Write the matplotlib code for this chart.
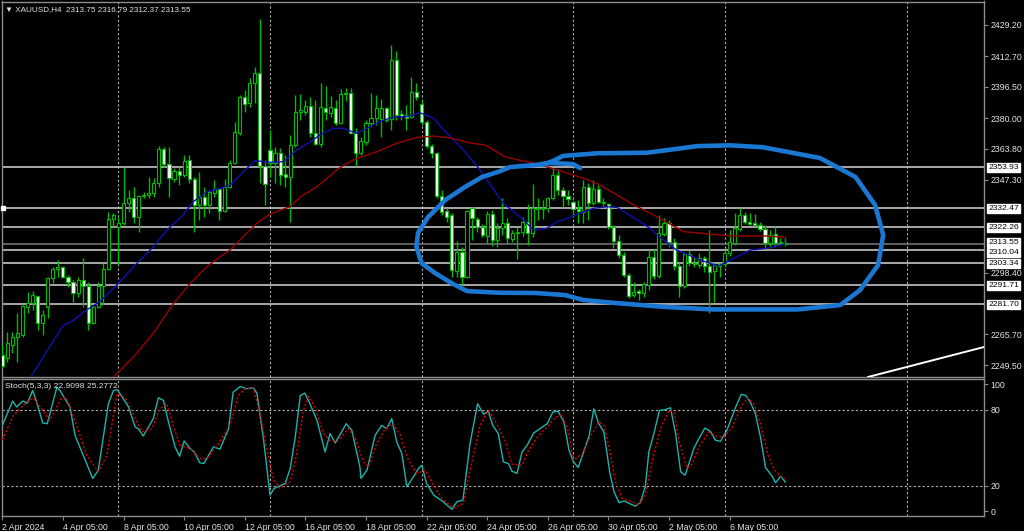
import matplotlib
matplotlib.use("Agg")
import matplotlib.pyplot as plt
import matplotlib.transforms as mtransforms

plt.rcParams['font.family'] = ['Liberation Sans', 'DejaVu Sans']

W, H = 1024, 531

# XAUUSD H4, OHLC of the visible bars
opens = [2254.8, 2253.0, 2260.1, 2264.3, 2265.4, 2280.1, 2282.3, 2285.9, 2271.7, 2280.1,
         2295.5, 2300.2, 2301.3, 2296.0, 2293.4, 2287.5, 2294.4, 2291.3, 2271.7, 2280.1,
         2291.3, 2300.2, 2326.7, 2322.5, 2324.6, 2335.1, 2337.8, 2327.7, 2338.8, 2339.3,
         2340.4, 2345.7, 2363.7, 2355.7, 2347.8, 2352.0, 2349.9, 2357.8, 2347.8, 2334.1,
         2338.3, 2334.1, 2340.4, 2342.5, 2330.9, 2343.6, 2356.3, 2372.1, 2391.1, 2388.0,
         2398.5, 2403.8, 2354.7, 2363.1, 2356.3, 2361.5, 2350.4, 2348.8, 2365.8, 2383.2,
         2383.2, 2386.4, 2372.1, 2366.3, 2385.3, 2382.7, 2385.3, 2377.4, 2393.3, 2393.3,
         2372.1, 2361.5, 2367.4, 2377.4, 2380.0, 2379.5, 2385.3, 2379.5, 2410.7, 2382.1,
         2381.6, 2380.6, 2393.8, 2387.4, 2377.9, 2365.2, 2361.5, 2338.8, 2330.9, 2328.8,
         2299.2, 2309.2, 2296.0, 2332.5, 2326.7, 2322.5, 2317.7, 2329.3, 2315.6, 2321.9,
         2324.6, 2316.1, 2319.1, 2319.6, 2325.1, 2319.1, 2332.5, 2332.0, 2332.5, 2337.8,
         2349.9, 2342.0, 2338.8, 2335.6, 2332.0, 2330.4, 2343.6, 2335.1, 2342.5, 2335.6,
         2334.6, 2322.5, 2315.0, 2307.6, 2297.1, 2286.5, 2288.6, 2287.5, 2291.8, 2306.6,
         2296.5, 2318.7, 2324.6, 2314.5, 2301.8, 2291.3, 2308.2, 2303.4, 2302.4, 2306.0,
         2301.8, 2299.2, 2301.8, 2302.9, 2308.7, 2314.0, 2321.4, 2328.8, 2325.1, 2324.6,
         2323.5, 2321.4, 2314.0, 2318.7, 2314.0, 2313.75]
highs = [2260.1, 2267.1, 2267.1, 2277.0, 2281.2, 2288.1, 2288.6, 2286.2, 2278.6, 2296.0,
         2301.3, 2305.0, 2301.8, 2297.1, 2294.4, 2296.0, 2306.0, 2293.4, 2281.2, 2293.4,
         2303.4, 2330.4, 2329.8, 2327.7, 2354.1, 2342.0, 2343.6, 2339.3, 2340.9, 2348.8,
         2348.3, 2365.2, 2364.7, 2364.7, 2353.6, 2354.1, 2360.5, 2360.5, 2348.8, 2351.5,
         2343.6, 2342.0, 2347.3, 2343.0, 2347.8, 2357.8, 2377.9, 2392.2, 2394.8, 2401.2,
         2407.0, 2432.4, 2357.8, 2373.7, 2364.7, 2364.2, 2360.5, 2371.0, 2392.2, 2392.7,
         2389.6, 2391.1, 2389.6, 2398.5, 2397.0, 2391.6, 2389.6, 2395.4, 2395.9, 2395.9,
         2374.7, 2370.0, 2379.0, 2393.3, 2392.2, 2390.1, 2385.8, 2418.6, 2415.5, 2384.3,
         2386.9, 2401.7, 2398.5, 2389.6, 2379.0, 2366.3, 2362.1, 2342.0, 2332.5, 2329.8,
         2315.0, 2311.9, 2331.4, 2333.0, 2327.7, 2324.0, 2330.9, 2331.4, 2324.6, 2337.8,
         2327.2, 2320.7, 2322.5, 2327.7, 2334.6, 2345.2, 2337.8, 2336.7, 2338.3, 2353.6,
         2353.1, 2343.6, 2342.0, 2336.7, 2336.7, 2347.3, 2345.7, 2347.3, 2344.6, 2337.8,
         2335.1, 2323.5, 2318.2, 2309.2, 2298.1, 2293.4, 2289.7, 2293.4, 2310.3, 2310.8,
         2328.8, 2327.2, 2326.1, 2316.6, 2303.4, 2309.2, 2310.3, 2306.6, 2308.7, 2307.1,
         2320.9, 2303.4, 2303.4, 2310.3, 2320.9, 2329.8, 2332.5, 2330.4, 2329.8, 2329.3,
         2325.1, 2323.5, 2320.7, 2323.0, 2316.6, 2316.79]
lows = [2247.9, 2251.2, 2255.8, 2251.1, 2264.3, 2277.0, 2278.6, 2268.0, 2265.4, 2274.3,
        2292.8, 2296.0, 2295.5, 2290.7, 2282.8, 2285.4, 2280.1, 2268.0, 2271.2, 2279.6,
        2281.2, 2299.7, 2322.2, 2302.4, 2323.5, 2330.4, 2324.6, 2319.6, 2337.8, 2337.8,
        2338.3, 2343.6, 2354.1, 2338.3, 2346.2, 2344.6, 2348.8, 2345.7, 2320.0, 2326.2,
        2327.7, 2329.8, 2338.3, 2326.2, 2330.4, 2343.0, 2355.7, 2371.0, 2383.2, 2385.8,
        2388.0, 2345.7, 2334.1, 2348.8, 2345.7, 2344.6, 2343.6, 2325.1, 2364.7, 2379.0,
        2381.6, 2370.0, 2365.8, 2364.7, 2379.0, 2380.6, 2376.3, 2376.9, 2389.0, 2371.5,
        2354.7, 2360.5, 2365.8, 2375.3, 2376.3, 2370.0, 2377.9, 2373.7, 2379.0, 2379.0,
        2373.7, 2380.0, 2389.6, 2376.3, 2364.2, 2358.9, 2337.8, 2328.8, 2325.1, 2296.0,
        2296.0, 2291.8, 2295.5, 2315.6, 2319.6, 2317.1, 2314.0, 2312.4, 2311.9, 2318.2,
        2314.0, 2314.5, 2305.5, 2317.7, 2312.9, 2317.1, 2326.2, 2326.7, 2330.4, 2336.7,
        2339.3, 2333.0, 2334.1, 2327.7, 2324.6, 2324.6, 2326.2, 2334.1, 2335.1, 2333.5,
        2321.4, 2311.3, 2306.0, 2296.0, 2284.9, 2285.4, 2283.9, 2285.4, 2289.1, 2295.0,
        2295.5, 2317.7, 2311.9, 2299.7, 2285.4, 2290.2, 2301.8, 2301.3, 2300.8, 2298.6,
        2277.0, 2282.8, 2296.0, 2301.3, 2307.1, 2312.9, 2320.3, 2324.0, 2323.5, 2323.0,
        2320.3, 2311.3, 2311.3, 2311.9, 2312.9, 2312.37]
closes = [2249.0, 2261.0, 2264.4, 2266.4, 2280.7, 2282.3, 2286.5, 2271.7, 2275.9, 2295.5,
          2300.2, 2301.3, 2296.0, 2293.4, 2287.5, 2294.4, 2291.3, 2271.7, 2280.1, 2291.3,
          2300.2, 2326.7, 2328.8, 2324.6, 2335.1, 2337.8, 2327.7, 2338.8, 2339.0, 2340.4,
          2345.7, 2363.7, 2355.7, 2348.3, 2352.0, 2349.9, 2357.3, 2347.8, 2334.1, 2338.3,
          2334.1, 2340.9, 2342.5, 2330.9, 2343.6, 2356.3, 2372.6, 2391.1, 2387.4, 2398.5,
          2403.8, 2354.7, 2345.2, 2356.3, 2361.5, 2349.9, 2348.8, 2365.8, 2383.2, 2384.3,
          2386.4, 2372.1, 2366.3, 2385.8, 2383.2, 2385.8, 2377.4, 2392.7, 2392.7, 2372.1,
          2361.5, 2367.9, 2377.4, 2380.0, 2385.3, 2385.3, 2379.0, 2410.7, 2381.6, 2381.1,
          2380.0, 2393.8, 2391.1, 2377.9, 2365.2, 2361.5, 2338.8, 2330.4, 2327.7, 2299.7,
          2309.2, 2296.0, 2330.9, 2327.2, 2322.5, 2318.2, 2329.3, 2315.6, 2321.9, 2324.6,
          2316.6, 2319.1, 2319.6, 2325.1, 2319.1, 2332.5, 2332.0, 2332.5, 2337.8, 2349.9,
          2342.0, 2338.8, 2337.2, 2332.0, 2330.9, 2343.6, 2335.1, 2342.5, 2335.6, 2335.1,
          2322.5, 2315.0, 2307.6, 2297.1, 2286.0, 2288.1, 2287.5, 2292.3, 2306.6, 2296.5,
          2319.3, 2324.6, 2314.5, 2301.8, 2291.3, 2308.2, 2303.4, 2302.9, 2306.0, 2301.8,
          2298.6, 2302.4, 2302.9, 2308.7, 2314.5, 2321.9, 2328.8, 2325.1, 2324.0, 2323.5,
          2321.4, 2314.0, 2318.2, 2314.0, 2314.5, 2313.55]

# moving averages (bar position, price)
ma_fast_x = [3, 5.6, 9.4, 12.1, 13.7, 16.7, 19.3, 23, 26, 28.6, 29.9, 32.6, 35.5, 37.8, 40.5,
             43.1, 45.1, 48.1, 50.0, 51.7, 52.4, 55.6, 58.3, 61, 62.9, 65.5, 67.5, 70.2, 72.2,
             74.8, 77.4, 80.1, 82.7, 85.4, 87.4, 88.7, 91.3, 94.6, 96.9, 99.2, 102.5, 105.2,
             107.8, 109.8, 111.8, 114.4, 117.0, 119.7, 121.7, 125, 128.3, 129.6, 133.5, 138.2,
             141.8, 144.8, 148.1, 151.4, 155]
ma_fast_y = [2230.0, 2243.0, 2259.2, 2270.6, 2272.4, 2278.6, 2283.0, 2292.7, 2301.5, 2308.5,
             2312.0, 2320.9, 2327.9, 2335.8, 2341.1, 2342.9, 2344.6, 2352.6, 2357.6, 2357.0,
             2356.6, 2357.0, 2363.1, 2367.5, 2371.1, 2374.6, 2374.6, 2371.9, 2374.6, 2378.1,
             2380.7, 2380.7, 2382.8, 2379.9, 2373.7, 2370.2, 2363.1, 2352.6, 2343.7, 2334.9,
             2327.9, 2320.9, 2321.7, 2325.2, 2327.0, 2329.7, 2332.3, 2333.2, 2332.8, 2327.4,
             2321.7, 2318.2, 2310.3, 2305.0, 2301.8, 2305.9, 2310.3, 2311.2, 2313.4]
ma_slow_x = [20, 22, 26, 29.9, 33.9, 37.2, 40.5, 43.1, 45.1, 47.7, 50.4, 53, 57, 59, 62.3, 66.2,
             68.2, 70.2, 74.1, 78.1, 82.1, 85.4, 88.7, 92.3, 95.6, 99.5, 102.2, 105.3, 109.8,
             115.1, 118.4, 122.3, 125, 128.3, 130.2, 134.9, 140.1, 144.7, 151.4, 155]
ma_slow_y = [2237.6, 2243.0, 2253.9, 2266.3, 2282.1, 2292.7, 2301.5, 2306.7, 2310.3, 2317.3,
             2324.4, 2329.3, 2333.2, 2338.4, 2343.7, 2352.6, 2356.1, 2358.7, 2362.2, 2366.7,
             2369.8, 2370.5, 2369.5, 2367.0, 2365.8, 2359.6, 2357.8, 2356.3, 2352.6, 2348.2,
             2344.6, 2338.4, 2334.1, 2329.7, 2327.0, 2320.0, 2318.7, 2317.7, 2317.7, 2317.0]

# Stoch(5,3,3): main (%K) and signal (%D)
stoch_k_x = [0, 2.05, 2.85, 4.03, 4.96, 6.01, 6.8, 8.0, 8.9, 10.8, 11.4, 13.4, 14.4, 16.7, 17.9,
             19.0, 21.0, 22.0, 22.8, 25.0, 26.3, 26.9, 27.9, 29.9, 30.9, 31.9, 32.9, 34.2, 35.1,
             36.0, 37.2, 38.0, 39.1, 39.9, 41.8, 43.1, 44.8, 45.7, 47.1, 48.4, 49.7, 50.4, 51.7,
             53.0, 53.8, 56.0, 57.0, 58.0, 59.0, 59.9, 60.9, 62.3, 63.9, 64.9, 65.9, 68.1, 69.2,
             70.8, 71.0, 72.2, 73.8, 75.1, 76.1, 77.1, 78.1, 79.1, 80.1, 81.4, 82.4, 83.05, 84.0,
             85.4, 87.3, 89.0, 90.0, 91.2, 92.6, 94.1, 95.3, 96.2, 97.1, 98.2, 99.2, 100.2, 100.9,
             101.9, 102.9, 103.9, 105.2, 106.9, 107.9, 109.0, 110.0, 111.2, 112.2, 113.1, 114.0,
             115.1, 116.2, 117.1, 118.1, 119.1, 120.3, 121.1, 122.1, 123.1, 124.4, 125.3, 126.3,
             127.3, 128.0, 129.0, 130.1, 131.2, 132.3, 133.3, 134.3, 135.2, 136.9, 137.9, 139.1,
             140.2, 141.2, 142.2, 143.5, 145.2, 146.3, 147.1, 148.1, 149.1, 150.1, 151.1, 152.4,
             153.1, 154.1, 155]
stoch_k_y = [67.7, 86.9, 82.2, 86.9, 85.3, 95.3, 86.1, 69.6, 69.0, 97.9, 95.3, 82.2, 59.8, 37.5,
             25.7, 32.3, 84.8, 95.3, 95.8, 82.2, 66.4, 65.1, 59.3, 73.0, 89.5, 87.4, 70.3, 50.7,
             43.3, 55.4, 49.3, 46.7, 38.1, 37.5, 50.7, 48.9, 65.1, 94.0, 98.4, 96.6, 97.4, 93.2,
             57.2, 12.6, 17.8, 21.8, 33.6, 58.5, 91.3, 93.2, 84.8, 71.7, 46.7, 61.2, 53.8, 69.0,
             63.8, 34.9, 25.7, 32.3, 59.8, 67.7, 65.1, 73.0, 54.6, 45.4, 19.2, 27.1, 33.6, 36.2,
             21.8, 12.6, 7.3, 1.3, 7.3, 8.7, 53.3, 84.8, 76.4, 79.0, 67.7, 61.2, 38.8, 37.5, 31.5,
             29.7, 46.7, 51.9, 61.6, 66.4, 69.0, 78.2, 79.0, 70.3, 48.0, 38.8, 34.4, 46.7, 59.8,
             80.8, 69.0, 62.5, 29.7, 15.3, 6.6, 7.9, 5.5, 3.9, 6.6, 19.2, 46.7, 61.2, 79.5, 80.1,
             81.6, 61.2, 31.0, 28.3, 49.3, 57.2, 65.6, 63.0, 55.9, 55.1, 64.3, 82.2, 92.2, 91.6,
             86.1, 76.9, 58.5, 34.4, 27.6, 22.3, 27.6, 22.9]
stoch_d_x = [0, 2.2, 4.5, 6.1, 8.1, 9.4, 11.8, 12.8, 14.7, 16.7, 19.0, 20.7, 22.7, 24.3, 25.6,
             27.6, 29.6, 31.2, 32.6, 33.9, 35.2, 37.2, 39.1, 40.5, 42.8, 45.1, 46.7, 48.1, 49.7,
             51.0, 52.4, 53.7, 55.0, 57.0, 58.3, 59.6, 60.6, 61.9, 63.6, 64.9, 66.2, 68.5, 69.8,
             71.5, 72.5, 74.1, 75.8, 77.4, 78.8, 80.4, 82.1, 83.7, 85.4, 87.0, 89.3, 91.3, 92.6,
             94.6, 96.2, 97.9, 99.5, 100.9, 102.9, 104.2, 106.2, 108.2, 109.5, 110.8, 112.0,
             113.1, 114.8, 116.4, 118.1, 119.1, 120.1, 121.4, 122.7, 124.7, 126.0, 127.3, 128.7,
             130.3, 132.0, 133.0, 134.0, 135.6, 136.6, 137.9, 139.9, 141.5, 142.9, 144.5, 146.1,
             147.5, 148.8, 150.1, 151.6, 152.9, 154.1, 155]
stoch_d_y = [56.4, 75.6, 84.8, 89.5, 79.5, 71.7, 90.0, 88.7, 67.7, 44.1, 31.0, 44.1, 92.6, 90.0,
             79.5, 62.5, 65.1, 80.8, 84.8, 66.4, 52.0, 49.3, 41.5, 41.5, 53.3, 67.7, 91.3, 96.6,
             97.4, 76.9, 48.0, 24.4, 17.8, 23.1, 45.4, 79.5, 90.5, 82.2, 61.2, 55.9, 54.6, 65.1,
             58.5, 38.8, 34.9, 53.3, 65.1, 69.0, 59.8, 40.2, 29.7, 32.3, 20.5, 10.0, 2.1, 6.0,
             32.3, 67.7, 79.5, 69.0, 55.9, 37.0, 36.2, 48.0, 59.8, 67.7, 74.3, 75.6, 63.8, 40.2,
             45.4, 58.5, 70.3, 67.7, 50.7, 23.1, 10.0, 7.3, 4.7, 12.6, 40.2, 65.1, 79.5, 78.2,
             54.6, 33.6, 37.5, 50.7, 62.5, 59.1, 58.5, 66.4, 80.8, 89.5, 84.8, 69.0, 44.1, 32.3,
             27.6, 25.3]

# horizontal lines drawn on the chart
levels = [2353.93, 2332.47, 2322.26, 2310.04, 2303.34, 2291.71, 2281.70]
bid = 2313.55
price_ticks = [2429.20, 2412.70, 2396.50, 2380.00, 2363.80, 2347.30, 2298.40, 2265.70, 2249.50]

# hand drawn blue loop (bar position, price)
loop_x = [114.4, 113.0, 108.4, 105.5, 100.5, 98.2, 95.0, 91.6, 87.7, 84.3, 82.3, 82.0, 83.0,
          85.7, 89.0, 92.0, 98.6, 105.5, 111.4, 115.0, 120.9, 130.8, 140.7, 157.4, 165.9,
          169.8, 173.4, 174.4, 172.8, 168.9, 161.9, 150.6, 144.1, 137.6, 127.7, 117.8, 111.0,
          109.0, 106.9]
loop_y = [2353.6, 2355.7, 2356.3, 2355.2, 2354.1, 2351.6, 2348.9, 2343.6, 2336.7, 2327.7,
          2319.3, 2311.9, 2303.4, 2298.1, 2292.7, 2288.6, 2287.7, 2287.6, 2286.5, 2283.9,
          2282.4, 2280.3, 2278.9, 2278.9, 2281.2, 2289.1, 2302.4, 2318.2, 2334.1, 2348.9,
          2358.9, 2364.6, 2365.6, 2365.2, 2361.7, 2361.4, 2360.0, 2357.3, 2355.2]
trend_x = [171.4, 194.3]
trend_y = [2243.2, 2259.0]

date_ticks = list(range(0, 145, 12))
date_labels = ["2 Apr 2024", "4 Apr 05:00", "8 Apr 05:00", "10 Apr 05:00", "12 Apr 05:00",
               "16 Apr 05:00", "18 Apr 05:00", "22 Apr 05:00", "24 Apr 05:00", "26 Apr 05:00",
               "30 Apr 05:00", "2 May 05:00", "6 May 05:00"]
grid_bars = [22.9, 53.0, 83.1, 113.0, 143.1, 179.1]

FG = '#e4e4e4'
FRAME = '#8c8c8c'
GREEN = '#00bb00'


def px_box(x0, y0, x1, y1):
    return [x0 / W, 1 - y1 / H, (x1 - x0) / W, (y1 - y0) / H]


fig = plt.figure(figsize=(W / 100, H / 100), dpi=100, facecolor='black')
ax = fig.add_axes(px_box(2, 1.5, 983.7, 377))
ax2 = fig.add_axes(px_box(2, 378.8, 983.7, 515.7), sharex=ax)

for a in (ax, ax2):
    a.set_facecolor('black')
    for s in a.spines.values():
        s.set_color(FRAME)
        s.set_linewidth(1.0)
    for g in grid_bars:
        a.axvline(g, color='#b0b0b0', lw=0.8, ls=(0, (2, 2)), zorder=1)

ax.set_xlim(-0.06, 194.3)
ax.set_ylim(2243.2, 2441.6)
ax2.set_ylim(-3.7, 104.5)

# candles
xs = list(range(len(opens)))
ax.vlines(xs, lows, highs, color=GREEN, lw=1.0, zorder=3)
bottoms = [min(o, c) for o, c in zip(opens, closes)]
heights = [max(abs(c - o), 0.35) for o, c in zip(opens, closes)]
fills = ['black' if c >= o else '#f4fff4' for o, c in zip(opens, closes)]
ax.bar(xs, heights, bottom=bottoms, width=0.62, color=fills, edgecolor=GREEN,
       linewidth=0.8, zorder=4)

# moving averages
ax.plot(ma_fast_x, ma_fast_y, color='#1010b0', lw=1.0, zorder=5)
ax.plot(ma_slow_x, ma_slow_y, color='#9a0000', lw=1.0, zorder=5)

# horizontal lines
for lv in levels:
    ax.axhline(lv, color='#c4c4c4', lw=1.2, zorder=2)
ax.axhline(bid, color='#707070', lw=1.2, zorder=2)
ax.plot([0.15], [2332.47], marker='s', ms=2.5, color='white', clip_on=False, zorder=6)

# trend line and drawing
ax.plot(trend_x, trend_y, color='white', lw=1.4, zorder=5)
ax.plot(loop_x, loop_y, color='#1a78d2', lw=3.3, solid_capstyle='round',
        solid_joinstyle='round', zorder=7)

# right price scale
ax.yaxis.tick_right()
ax.set_yticks(price_ticks)
ax.set_yticklabels(['%.2f' % p for p in price_ticks])
ax.tick_params(axis='y', colors=FRAME, labelcolor=FG, labelsize=6.3, length=3, pad=2)
ax.tick_params(axis='x', bottom=False, labelbottom=False)

# boxed labels of the horizontal lines; the two close ones are nudged apart
trans = mtransforms.blended_transform_factory(ax.transAxes, ax.transData)
nudge = {2313.55: 1.6, 2310.04: -1.6}
for lv in levels + [bid]:
    t = mtransforms.offset_copy(trans, fig=fig, y=nudge.get(lv, 0), units='dots')
    ax.text(1.0045, lv, '%.2f' % lv, transform=t, fontsize=6.1, color='black',
            va='center', ha='left', clip_on=False, zorder=8,
            bbox=dict(boxstyle='square,pad=0.12', fc='white', ec='white'))

# stochastic panel
ax2.axhline(20, color='#b0b0b0', lw=0.8, ls=(0, (2, 2)), zorder=1)
ax2.axhline(80, color='#b0b0b0', lw=0.8, ls=(0, (2, 2)), zorder=1)
ax2.plot(stoch_k_x, stoch_k_y, color='#20b2aa', lw=1.0, zorder=3)
ax2.plot(stoch_d_x, stoch_d_y, color='#e00000', lw=1.0, ls=(0, (1.5, 1.5)), zorder=3)
ax2.yaxis.tick_right()
ax2.set_yticks([0, 20, 80, 100])
ax2.set_yticklabels(['0', '20', '80', '100'])
ax2.tick_params(axis='y', colors=FRAME, labelcolor=FG, labelsize=6.3, length=3, pad=2)
ax2.set_xticks(date_ticks)
ax2.set_xticklabels(date_labels)
ax2.tick_params(axis='x', colors=FRAME, labelcolor=FG, labelsize=6.3, length=3, pad=2)
for lab in ax2.get_xticklabels():
    lab.set_horizontalalignment('left')

fig.text(5 / W, 1 - 10 / H, '\u25bc XAUUSD,H4  2313.75 2316.79 2312.37 2313.55',
         color=FG, fontsize=5.9, va='center', ha='left')
fig.text(5 / W, 1 - 386 / H, 'Stoch(5,3,3) 22.9098 25.2772',
         color=FG, fontsize=6.1, va='center', ha='left')

fig.savefig('out.png', dpi=100, facecolor='black')
